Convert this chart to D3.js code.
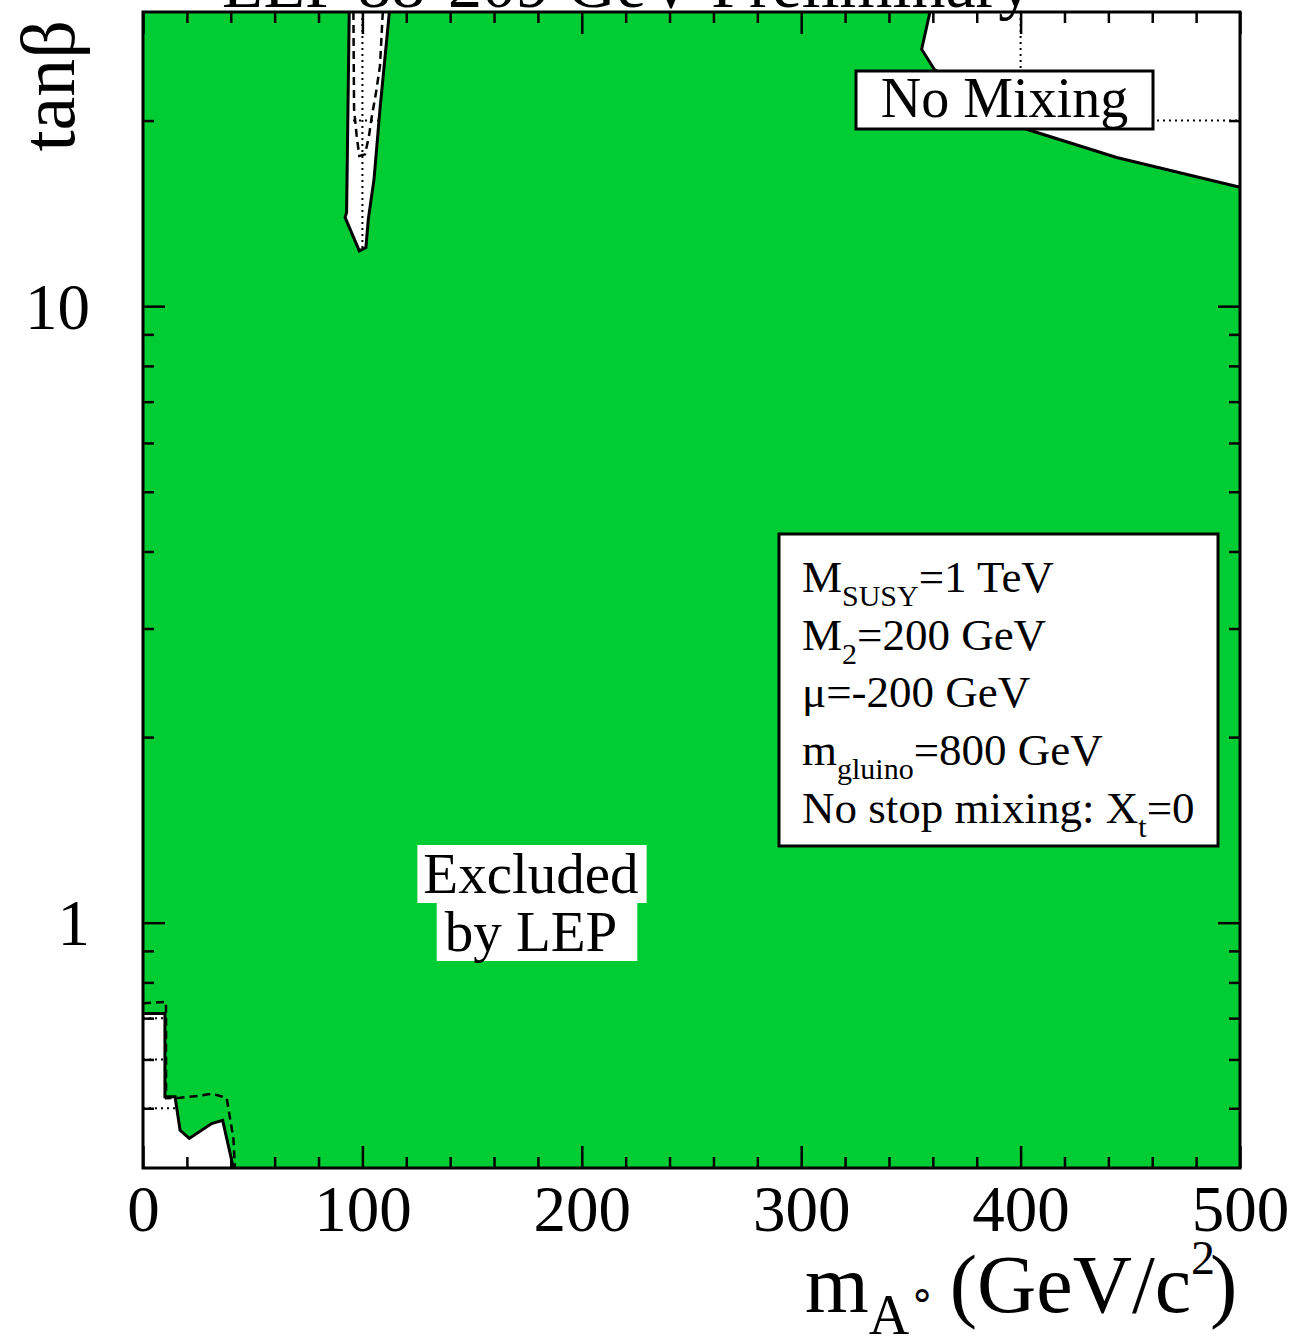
<!DOCTYPE html>
<html>
<head>
<meta charset="utf-8">
<script src="https://cdn.jsdelivr.net/npm/d3@7"></script>
<style>
  html, body { margin: 0; padding: 0; background: #fff; }
  svg { display: block; }
  text { font-family: "Liberation Serif", "Times New Roman", serif; fill: #000; }
</style>
</head>
<body>
<svg id="chart" width="1295" height="1342"></svg>
<script>
// Allowed (not excluded) regions in the (mA, tanβ) plane, observed contours
const allowedUpperRight = [[358.7, 30], [354.9, 26.1], [360.7, 24.2], [381.5, 21.65], [402.8, 19.36], [443.8, 17.42], [500, 15.59]];
const allowedSlot = [[94.0, 30], [92.8, 14.19], [92.1, 13.93], [98.6, 12.29], [101.6, 12.45], [102.7, 13.84], [105.3, 16.06], [108.0, 20.86], [112.3, 30]];
const allowedLowerLeft = [[0, 0.712], [10, 0.712], [10, 0.522], [14.6, 0.522], [16.9, 0.4605], [21.1, 0.4467], [31.3, 0.4723], [36.3, 0.478], [41.2, 0.4]];

// Expected contours
const expectedSlot = [[95.9, 30], [96.2, 20.86], [97.4, 18.88], [98.6, 17.52], [101.2, 17.63], [103.0, 18.88], [104.2, 20.22], [106.2, 22.2], [108.0, 24.5], [109.3, 30]];
const expectedLowerLeft = [[0, 0.74], [10.5, 0.744], [10.5, 0.519], [16.9, 0.52], [26, 0.524], [31.3, 0.528], [38.1, 0.52], [39.7, 0.481], [41.2, 0.4467], [41.9, 0.4]];

// Axis ticks
const xMajorTicks = [0, 100, 200, 300, 400, 500];
const xMinorTicks = [20, 40, 60, 80, 120, 140, 160, 180, 220, 240, 260, 280, 320, 340, 360, 380, 420, 440, 460, 480];
const yMajorTicks = [1, 10];
const yMinorTicks = [0.5, 0.6, 0.7, 0.8, 0.9, 2, 3, 4, 5, 6, 7, 8, 9, 20];
const xGridValues = [100, 200, 300, 400];
const yGridValues = [0.5, 0.6, 0.7, 0.8, 0.9, 1, 2, 3, 4, 5, 6, 7, 8, 9, 10, 20];

const titleText = "LEP 88-209 GeV Preliminary";
const paramLines = [
  [["M", false], ["SUSY", true], ["=1 TeV", false]],
  [["M", false], ["2", true], ["=200 GeV", false]],
  [["\u03bc=-200 GeV", false]],
  [["m", false], ["gluino", true], ["=800 GeV", false]],
  [["No stop mixing: X", false], ["t", true], ["=0", false]]
];

const plotL = 143, plotR = 1240, plotT = 12, plotB = 1168;
const green = "rgb(0,204,51)";

const svg = d3.select("#chart");
const x = d3.scaleLinear().domain([0, 500]).range([plotL, plotR]);
const y = d3.scaleLog().domain([0.4, 30]).range([plotB, plotT]);

// Grid (only shows through the allowed regions)
const grid = svg.append("g").attr("stroke", "#000").attr("stroke-width", 2).attr("stroke-dasharray", "2,4");
grid.selectAll("line.v").data(xGridValues).join("line").attr("class", "v")
  .attr("x1", d => x(d)).attr("x2", d => x(d)).attr("y1", plotT).attr("y2", plotB);
grid.selectAll("line.h").data(yGridValues).join("line").attr("class", "h")
  .attr("x1", plotL).attr("x2", plotR).attr("y1", d => y(d)).attr("y2", d => y(d));

// Excluded area: plot rectangle with the allowed regions cut out
const ring = pts => "M" + pts.map(p => x(p[0]) + "," + y(p[1])).join("L") + "Z";
const outer = [[0, 0.4], [500, 0.4], [500, 30], [0, 30]];
const holeUR = allowedUpperRight.concat([[500, 30]]);
const holeSlot = allowedSlot;
const holeLL = allowedLowerLeft.concat([[0, 0.4]]);
svg.append("path")
  .attr("d", ring(outer) + ring(holeUR) + ring(holeSlot) + ring(holeLL))
  .attr("fill", green).attr("fill-rule", "evenodd");

const line = d3.line().x(d => x(d[0])).y(d => y(d[1]));

// Observed contours
[allowedUpperRight, allowedSlot, allowedLowerLeft].forEach(c => {
  svg.append("path").attr("d", line(c)).attr("fill", "none")
    .attr("stroke", "#000").attr("stroke-width", 3).attr("stroke-linejoin", "miter");
});
// Expected contours
[expectedSlot, expectedLowerLeft].forEach(c => {
  svg.append("path").attr("d", line(c)).attr("fill", "none")
    .attr("stroke", "#000").attr("stroke-width", 2.5).attr("stroke-dasharray", "8,5");
});

// Axes with inward ticks on all four sides
function addAxis(axisFn, scale, vals, size, transform, fmt) {
  const a = axisFn(scale).tickValues(vals).tickSizeInner(-size).tickSizeOuter(0);
  if (fmt) a.tickFormat(fmt).tickPadding(0); else a.tickFormat("");
  const g = svg.append("g").attr("transform", transform).call(a);
  g.select(".domain").remove();
  g.selectAll(".tick line").attr("stroke", "#000").attr("stroke-width", 2.5);
  return g;
}
const xb = addAxis(d3.axisBottom, x, xMajorTicks, 22, `translate(0,${plotB})`, d3.format("d"));
xb.selectAll(".tick text").attr("font-size", 65).attr("y", 63).attr("dy", null)
  .attr("font-family", "Liberation Serif").attr("fill", "#000");
addAxis(d3.axisBottom, x, xMinorTicks, 11, `translate(0,${plotB})`, null);
addAxis(d3.axisTop, x, xMajorTicks, 22, `translate(0,${plotT})`, null);
addAxis(d3.axisTop, x, xMinorTicks, 11, `translate(0,${plotT})`, null);
const yl = addAxis(d3.axisLeft, y, yMajorTicks, 22, `translate(${plotL},0)`, d3.format("d"));
yl.selectAll(".tick text").attr("font-size", 65).attr("x", -53).attr("dy", "0.34em")
  .attr("font-family", "Liberation Serif").attr("fill", "#000");
addAxis(d3.axisLeft, y, yMinorTicks, 11, `translate(${plotL},0)`, null);
addAxis(d3.axisRight, y, yMajorTicks, 22, `translate(${plotR},0)`, null);
addAxis(d3.axisRight, y, yMinorTicks, 11, `translate(${plotR},0)`, null);

// Frame
svg.append("rect").attr("x", plotL).attr("y", plotT).attr("width", plotR - plotL).attr("height", plotB - plotT)
  .attr("fill", "none").attr("stroke", "#000").attr("stroke-width", 3);

// Title (sits on the upper frame)
svg.append("text").attr("x", 222).attr("y", 7).attr("font-size", 68).text(titleText);

// Axis titles
const xt = svg.append("text").attr("x", 805).attr("y", 1312).attr("font-size", 82);
xt.append("tspan").text("m");
xt.append("tspan").attr("dy", 22).attr("font-size", 56).text("A");
xt.append("tspan").attr("dy", -24).attr("font-size", 42).text("\u2218");
xt.append("tspan").attr("dy", 2).attr("dx", -6).text(" (GeV/c");
xt.append("tspan").attr("dy", -38).attr("font-size", 48).text("2");
xt.append("tspan").attr("dy", 38).attr("dx", -5).text(")");

svg.append("text").attr("transform", "translate(74,20) rotate(-90)")
  .attr("text-anchor", "end").attr("font-size", 76).text("tan\u03b2");

// "No Mixing" label box
svg.append("rect").attr("x", 856).attr("y", 71).attr("width", 297).attr("height", 58)
  .attr("fill", "#fff").attr("stroke", "#000").attr("stroke-width", 3);
svg.append("text").attr("x", 1004.5).attr("y", 117).attr("text-anchor", "middle").attr("font-size", 56).text("No Mixing");

// "Excluded by LEP" label with white backing per line
[["Excluded", 893, 845, 6, 8], ["by LEP", 951, 903, 8, 20]].forEach(([s, by, ry, padL, padR]) => {
  const t = svg.append("text").attr("x", 531).attr("y", by).attr("text-anchor", "middle").attr("font-size", 57).text(s);
  const bb = t.node().getBBox();
  svg.insert("rect", () => t.node())
    .attr("x", bb.x - padL).attr("width", bb.width + padL + padR)
    .attr("y", ry).attr("height", 58).attr("fill", "#fff");
});

// Parameter box
svg.append("rect").attr("x", 779).attr("y", 534).attr("width", 439).attr("height", 312)
  .attr("fill", "#fff").attr("stroke", "#000").attr("stroke-width", 3);
paramLines.forEach((segs, i) => {
  const t = svg.append("text").attr("x", 802).attr("y", 592 + i * 57.7).attr("font-size", 45);
  let lowered = false;
  segs.forEach(([s, sub]) => {
    const sp = t.append("tspan").text(s);
    if (sub && !lowered) { sp.attr("dy", 14).attr("font-size", 30); lowered = true; }
    else if (!sub && lowered) { sp.attr("dy", -14); lowered = false; }
  });
});
</script>
</body>
</html>
